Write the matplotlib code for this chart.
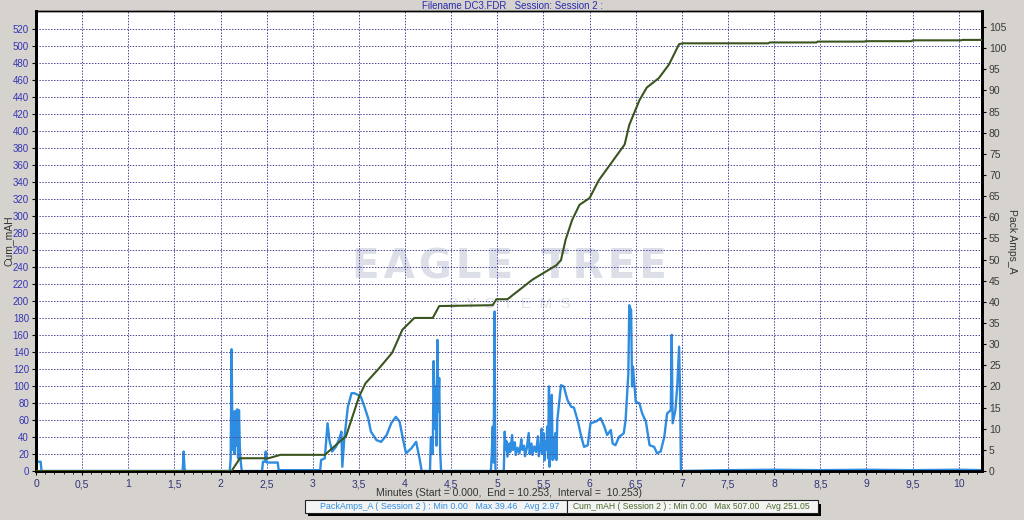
import matplotlib
matplotlib.use('Agg')
import matplotlib.pyplot as plt
from matplotlib.patches import Rectangle
from matplotlib.ticker import MultipleLocator, FuncFormatter

# Cumulative capacity (left axis)
t_mah = [0, 2.12, 2.21, 2.52, 2.65, 3.13, 3.36, 3.50, 3.57, 3.72, 3.86, 3.97,
         4.10, 4.30, 4.37, 4.95, 4.99, 5.11, 5.38, 5.64, 5.69, 5.74, 5.81,
         5.89, 6.00, 6.10, 6.38, 6.43, 6.54, 6.62, 6.75, 6.86, 6.97, 7.01,
         7.94, 7.95, 8.46, 8.47, 8.98, 8.99, 9.49, 9.50, 10.03, 10.04, 10.253]
mah = [0, 0, 15, 15, 19, 19, 41, 87, 103, 121, 139, 166,
       180, 180, 194, 195, 202, 202, 225, 242, 248, 272, 295,
       313, 321, 342, 384, 407, 436, 451, 462, 478, 502, 503,
       503, 504, 504, 505, 505, 505.5, 505.5, 506.5, 506.5, 507, 507]

# Pack current (right axis)
t_amps = [0.00, 0.05, 0.06, 1.59, 1.60, 1.61, 1.62, 2.10, 2.11, 2.12, 2.13,
          2.14, 2.15, 2.16, 2.17, 2.18, 2.19, 2.20, 2.21, 2.22, 2.23, 2.45,
          2.46, 2.48, 2.49, 2.50, 2.62, 2.63, 3.08, 3.09, 3.13, 3.16, 3.18,
          3.21, 3.25, 3.29, 3.31, 3.32, 3.34, 3.38, 3.42, 3.45, 3.49, 3.52,
          3.56, 3.60, 3.63, 3.69, 3.74, 3.80, 3.85, 3.90, 3.94, 3.98, 4.01,
          4.07, 4.12, 4.16, 4.18, 4.27, 4.28, 4.30, 4.31, 4.32, 4.33, 4.34,
          4.35, 4.36, 4.37, 4.38, 4.39, 4.93, 4.94, 4.95, 4.96, 4.97, 4.975,
          4.98, 5.07, 5.08, 5.09, 5.10, 5.11, 5.13, 5.14, 5.16, 5.17, 5.19,
          5.20, 5.22, 5.24, 5.26, 5.27, 5.29, 5.30, 5.32, 5.34, 5.35, 5.37,
          5.38, 5.40, 5.42, 5.44, 5.45, 5.47, 5.48, 5.49, 5.50, 5.51, 5.52,
          5.53, 5.54, 5.55, 5.56, 5.565, 5.57, 5.58, 5.59, 5.60, 5.61, 5.62,
          5.63, 5.64, 5.65, 5.69, 5.72, 5.76, 5.80, 5.83, 5.87, 5.91, 5.94,
          5.98, 6.01, 6.07, 6.12, 6.16, 6.19, 6.23, 6.25, 6.28, 6.32, 6.37,
          6.39, 6.42, 6.43, 6.45, 6.46, 6.47, 6.50, 6.54, 6.57, 6.61, 6.65,
          6.70, 6.73, 6.77, 6.81, 6.84, 6.88, 6.89, 6.90, 6.93, 6.95, 6.97,
          6.98, 6.99, 7.5, 8.0, 8.5, 9.0, 9.5, 10.0, 10.253]
amps = [2.2, 2.2, 0, 0, 4.6, 0.5, 0, 0, 3, 28.8, 5,
        14, 4, 14.2, 6, 14.6, 3, 14.4, 5, 2, 0, 0,
        2.2, 2.2, 4.6, 2, 2, 0.2, 0.2, 2.6, 3, 11.3, 7.3,
        4.6, 5.7, 7.8, 9.3, 1, 7.3, 15.2, 18.4, 18.4, 18.0, 17.6,
        15.2, 12.5, 9.3, 7.3, 6.9, 8.5, 11.3, 12.8, 11.7, 7.3, 4.2,
        5.4, 6.9, 2.6, 0, 0, 8, 4, 26, 10, 20, 6,
        31, 14, 22, 5, 0, 0, 4, 10.5, 2, 37.7, 12,
        0, 0, 9.3, 5, 7, 3.4, 6.5, 4.5, 8.5, 5, 6.8,
        3.8, 5.5, 4.2, 7.5, 5, 6, 3.5, 5.5, 9, 4, 6.5,
        3.8, 5.8, 4.5, 8.2, 3.5, 6, 10, 4, 9, 2.5, 7,
        5, 10.5, 3, 20, 1, 14, 4, 18, 2.6, 8, 3,
        9, 2.6, 12, 20.3, 20, 16.8, 15.2, 15, 12, 8.1, 5.7,
        6.1, 11.3, 11.7, 12.5, 10.5, 8.5, 9.7, 6.5, 6.1, 8.1, 8.9,
        12, 23, 39.2, 38, 20, 24.7, 16.4, 16, 13.6, 11.7, 6.1,
        5.7, 4.2, 4.6, 8.1, 13.6, 14.4, 32.2, 11.3, 14.4, 20, 29.4,
        19.5, 0, 0.2, 0.3, 0.2, 0.3, 0.2, 0.3, 0.2]

x_ticks = [0, 0.5, 1, 1.5, 2, 2.5, 3, 3.5, 4, 4.5, 5, 5.5, 6, 6.5, 7, 7.5, 8,
           8.5, 9, 9.5, 10]

W, H = 1024, 520
bg = '#d6d3ce'
plt.rcParams['font.family'] = ['Liberation Sans', 'DejaVu Sans']
fig = plt.figure(figsize=(W / 100, H / 100), dpi=100, facecolor=bg)

ax2 = fig.add_axes([36 / W, 49 / H, 946 / W, 460 / H])
ax = ax2.twinx()
ax.set_position(ax2.get_position())
# left axis (cum mAh) on top, amps axis below it
ax2.set_zorder(1)
ax.set_zorder(2)
ax.patch.set_visible(False)
ax2.set_facecolor('white')

# watermark
ax2.text(0.5, 0.442, 'E\u200aA\u200aG\u200aL\u200aE  T\u200aR\u200aE\u200aE',
         transform=ax2.transAxes, ha='center', va='center', fontsize=29,
         fontweight='bold', color='#dcdee8', zorder=0, family='DejaVu Sans')
ax2.text(0.5, 0.362, 'S  Y  S  T  E  M  S', transform=ax2.transAxes,
         ha='center', va='center', fontsize=11, color='#e0e2ea', zorder=0)

ax2.plot(t_amps, amps, color='#2e8de0', lw=1.7, zorder=3)
ax.plot(t_mah, mah, color='#3b5520', lw=1.5, zorder=3)

ax.set_xlim(0, 10.253)
ax2.set_xlim(0, 10.253)
ax.set_ylim(0, 541)
ax2.set_ylim(0, 108.8)

# twinx puts ax's ticks on the right, so swap sides
ax.yaxis.tick_left()
ax2.yaxis.tick_right()

ax.set_yticks(range(0, 521, 20))
ax2.set_yticks(range(0, 106, 5))
ax2.set_xticks(x_ticks)
ax2.xaxis.set_minor_locator(MultipleLocator(0.1))
ax2.xaxis.set_major_formatter(FuncFormatter(
    lambda v, p: ('%g' % v).replace('.', ',')))

ax.tick_params(axis='y', labelsize=7, labelcolor='#3434b4', length=3,
               width=0.8, pad=2)
ax2.tick_params(axis='y', labelsize=7.5, labelcolor='#3a3a3a', length=3,
                width=0.8, pad=2)
ax2.tick_params(axis='x', which='major', labelsize=7.5, labelcolor='#33337a',
                length=3, width=0.8, pad=3)
ax2.tick_params(axis='x', which='minor', length=2, width=0.6)
ax.tick_params(axis='x', which='both', bottom=False, labelbottom=False)

# dotted grid from the left axis and x axis
ax.grid(True, axis='y', color='#4a4a96', lw=0.7, linestyle=(0, (1.5, 1.5)))
ax2.grid(True, axis='x', color='#4a4a96', lw=0.7, linestyle=(0, (1.5, 1.5)))
ax2.set_axisbelow(True)

for a in (ax, ax2):
    a.spines['left'].set_linewidth(2)
    a.spines['bottom'].set_linewidth(2)
    a.spines['right'].set_linewidth(2)
    a.spines['top'].set_linewidth(1)

fig.text(9 / W, 1 - 241 / H, 'Cum_mAH', rotation=90, fontsize=7.5,
         color='#333333', ha='center', va='center')
fig.text(1012 / W, 1 - 241 / H, 'Pack Amps_A', rotation=-90, fontsize=7.5,
         color='#333333', ha='center', va='center')
fig.text(509 / W, 1 - 493 / H,
         'Minutes (Start = 0.000,  End = 10.253,  Interval =  10.253)',
         fontsize=7.5, color='#333333', ha='center', va='center')

fig.text(0.5, 1 - 1 / H, 'Filename DC3.FDR   Session: Session 2 :',
         ha='center', va='top', fontsize=7, color='#2a2ab0')

# legend boxes with shadow at the bottom
def px_rect(x0, y0, x1, y1, **kw):
    r = Rectangle((x0 / W, 1 - y1 / H), (x1 - x0) / W, (y1 - y0) / H,
                  transform=fig.transFigure, figure=fig, **kw)
    fig.patches.append(r)

px_rect(308, 504, 821, 516, facecolor='black', edgecolor='none')
px_rect(305, 500, 567, 513, facecolor='#f4f4f4', edgecolor='#222222', lw=0.8)
px_rect(567, 500, 818, 513, facecolor='#f4f4f4', edgecolor='#222222', lw=0.8)
fig.text(320 / W, 1 - 506.5 / H,
         'PackAmps_A ( Session 2 ) : Min 0.00   Max 39.46   Avg 2.97',
         fontsize=6.4, color='#2e8de0', va='center')
fig.text(573 / W, 1 - 506.5 / H,
         'Cum_mAH ( Session 2 ) : Min 0.00   Max 507.00   Avg 251.05',
         fontsize=6.2, color='#4a6a2a', va='center')

fig.savefig('out.png', dpi=100, facecolor=bg)
